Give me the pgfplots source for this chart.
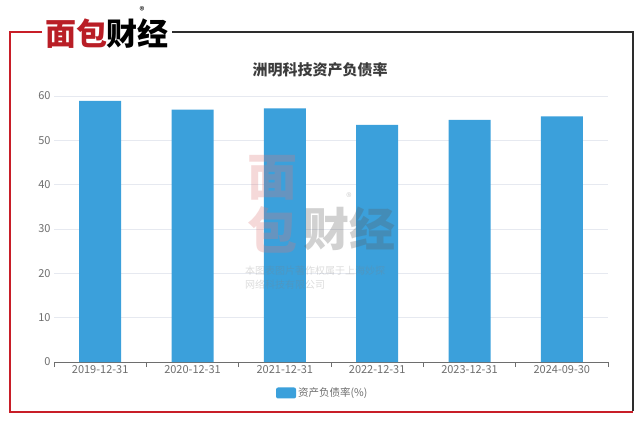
\documentclass[border=0pt]{standalone}
\usepackage{fontspec}
\setmainfont{Noto Sans CJK SC}
\usepackage{pgfplots}
\pgfplotsset{compat=1.18}
\definecolor{barblue}{RGB}{59,160,219}
\definecolor{txtgray}{RGB}{110,110,110}
\definecolor{gridc}{RGB}{230,233,240}
\definecolor{logored}{RGB}{185,30,38}
\definecolor{framered}{RGB}{200,30,40}
\definecolor{framedark}{RGB}{45,45,45}
\begin{document}
\begin{tikzpicture}[x=1pt,y=1pt]
\path[use as bounding box] (0,0) rectangle (640,424);
% frame
\draw[framered, line width=1.5pt] (42,392) -- (10,392) -- (10,12) -- (633,12);
\draw[framedark, line width=1.5pt] (172,392) -- (633,392) -- (633,12.75);
% logo
\node[inner sep=0] at (107,390) {\fontsize{31}{31}\selectfont\bfseries{\color{logored}面包}{\color{black}财经}};
\node[inner sep=0] at (142,413) {\fontsize{10}{10}\selectfont ®};
% title
\node[text={rgb,255:red,60;green,60;blue,60}] at (320,354) {\fontsize{15}{18}\selectfont\bfseries 洲明科技资产负债率};

\begin{axis}[
  at={(54pt,62pt)}, anchor=south west, scale only axis,
  width=554pt, height=266pt,
  xmin=-0.5, xmax=5.5, ymin=0, ymax=60,
  ytick={0,10,...,60},
  xtick={0,...,5},
  xticklabels={2019-12-31,2020-12-31,2021-12-31,2022-12-31,2023-12-31,2024-09-30},
  minor xtick={-0.5,0.5,...,5.5},
  major tick length=0pt, minor tick length=5pt, tick align=outside,
  axis x line*=bottom, axis y line*=left,
  x axis line style={draw=txtgray, -, line width=0.8pt},
  y axis line style={draw=none},
  minor tick style={draw=txtgray, line width=0.8pt},
  ymajorgrids, grid style={gridc, line width=0.8pt},
  ticklabel style={font=\fontsize{11}{13}\selectfont, text=txtgray},
  /pgf/number format/assume math mode=true,
  ybar, bar width=42pt, bar shift=0pt,
  legend style={at={(0.485,-0.1165)}, anchor=center, draw=none,
    font=\fontsize{10.5}{12}\selectfont, text=txtgray},
  legend image code/.code={\fill[barblue, rounded corners=2pt] (0pt,-5.5pt) rectangle (20pt,5.5pt);},
]
\addplot[fill=barblue, draw=none] coordinates {
  (0,58.9) (1,56.9) (2,57.2) (3,53.5) (4,54.6) (5,55.4)
};
\addlegendentry{资产负债率(\%)}
\end{axis}

% watermark
\begin{scope}[opacity=0.28]
\node[inner sep=0, text={rgb,255:red,220;green,120;blue,120}] at (272,246) {\fontsize{50}{50}\selectfont\bfseries 面};
\node[inner sep=0, text={rgb,255:red,220;green,120;blue,120}] at (272,194) {\fontsize{50}{50}\selectfont\bfseries 包};
\node[inner sep=0, text={rgb,255:red,90;green,90;blue,90}] at (349,195) {\fontsize{46}{46}\selectfont\bfseries 财经};
\node[inner sep=0, text={rgb,255:red,90;green,90;blue,90}] at (349,227) {\fontsize{11}{11}\selectfont ®};
\node[inner sep=0, anchor=west, text=gray] at (245,153) {\fontsize{10}{11}\selectfont 本图表图片著作权属于上海妙探};
\node[inner sep=0, anchor=west, text=gray] at (245,139) {\fontsize{10}{11}\selectfont 网络科技有限公司};
\end{scope}
\end{tikzpicture}
\end{document}
